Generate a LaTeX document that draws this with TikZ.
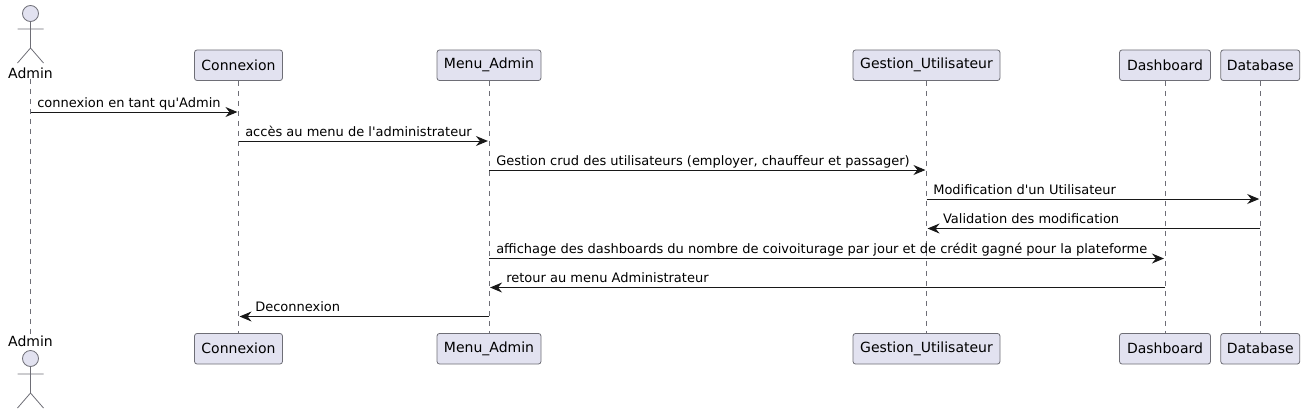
\documentclass[tikz,border=0pt]{standalone}
\usepackage{fontspec}
\setmainfont{DejaVu Sans}
\usetikzlibrary{arrows.meta}
\definecolor{PartFill}{HTML}{E2E2F0}
\definecolor{PartLine}{HTML}{181818}
\definecolor{SoftLine}{HTML}{6E6E76}
\tikzset{
  partbox/.style={draw=SoftLine, line width=0.6pt, fill=PartFill, rounded corners=2pt, minimum height=23pt, inner sep=0pt, font=\fontsize{10.5pt}{12pt}\selectfont},
  lifeline/.style={draw=SoftLine, line width=0.6pt, dash pattern=on 3.75pt off 3.75pt},
  msgline/.style={draw=PartLine, line width=0.75pt, -{Stealth[length=9pt,width=7.5pt,inset=3pt]}, shorten >=0.8pt},
  msglabel/.style={anchor=base west, inner sep=0pt, font=\fontsize{9.75pt}{12pt}\selectfont},
  actorname/.style={inner sep=0pt, font=\fontsize{10.5pt}{12pt}\selectfont},
  actorfig/.pic={
    \draw[SoftLine, line width=0.6pt, fill=PartFill] (0,0) circle (8);
    \draw[SoftLine, line width=0.6pt] (0,8) -- (0,34.5) (-13,15.5) -- (13,15.5)
      (-13,49.5) -- (0,34.5) -- (13,49.5);
  }
}
\begin{document}
\begin{tikzpicture}[x=0.75pt,y=-0.75pt]
    \useasboundingbox (0,0) rectangle (1305,414);
    % top row
    \node[actorname] (AdminTop) at (30.5,73) {Admin};
    \pic at (30.5,13.5) {actorfig};
    \node[partbox, minimum width=66pt] (ConnexionTop) at (238.5,65.25) {Connexion};
    \node[partbox, minimum width=78pt] (MenuTop) at (489,65.25) {Menu\_Admin};
    \node[partbox, minimum width=110.25pt] (GestionTop) at (926.5,65.25) {Gestion\_Utilisateur};
    \node[partbox, minimum width=68.25pt] (DashboardTop) at (1165,65.25) {Dashboard};
    \node[partbox, minimum width=59.25pt] (DatabaseTop) at (1260.25,65.25) {Database};
    % bottom row
    \node[actorname] (AdminBot) at (30.5,341) {Admin};
    \pic at (30.5,358.5) {actorfig};
    \node[partbox, minimum width=66pt] (ConnexionBot) at (238.5,348.75) {Connexion};
    \node[partbox, minimum width=78pt] (MenuBot) at (489,348.75) {Menu\_Admin};
    \node[partbox, minimum width=110.25pt] (GestionBot) at (926.5,348.75) {Gestion\_Utilisateur};
    \node[partbox, minimum width=68.25pt] (DashboardBot) at (1165,348.75) {Dashboard};
    \node[partbox, minimum width=59.25pt] (DatabaseBot) at (1260.25,348.75) {Database};
    % lifelines
    \foreach \who in {Admin,Connexion,Menu,Gestion,Dashboard,Database} {
      \draw[lifeline] (\who Top) -- (\who Bot);
    }
    % messages
    \foreach \from/\to/\y/\off/\txt in {
      Admin/Connexion/112/6.5/{connexion en tant qu\textquotesingle Admin},
      Connexion/Menu/141/6.5/{accès au menu de l\textquotesingle administrateur},
      Menu/Gestion/170/7/{Gestion crud des utilisateurs (employer, chauffeur et passager)},
      Gestion/Database/199/6.5/{Modification d\textquotesingle un Utilisateur},
      Database/Gestion/228.5/-317.5/{Validation des modification},
      Menu/Dashboard/258.5/7/{affichage des dashboards du nombre de coivoiturage par jour et de crédit gagné pour la plateforme},
      Dashboard/Menu/287.5/-659/{retour au menu Administrateur},
      Menu/Connexion/316.5/-234/{Deconnexion}} {
      \coordinate (start) at (\from Top |- 0,\y);
      \coordinate (stop) at (\to Top |- 0,\y);
      \draw[msgline] (start) -- (stop);
      \node[msglabel] at ([xshift=\off*0.75pt, yshift=3.75pt]start) {\txt};
    }
  \end{tikzpicture}
\end{document}
